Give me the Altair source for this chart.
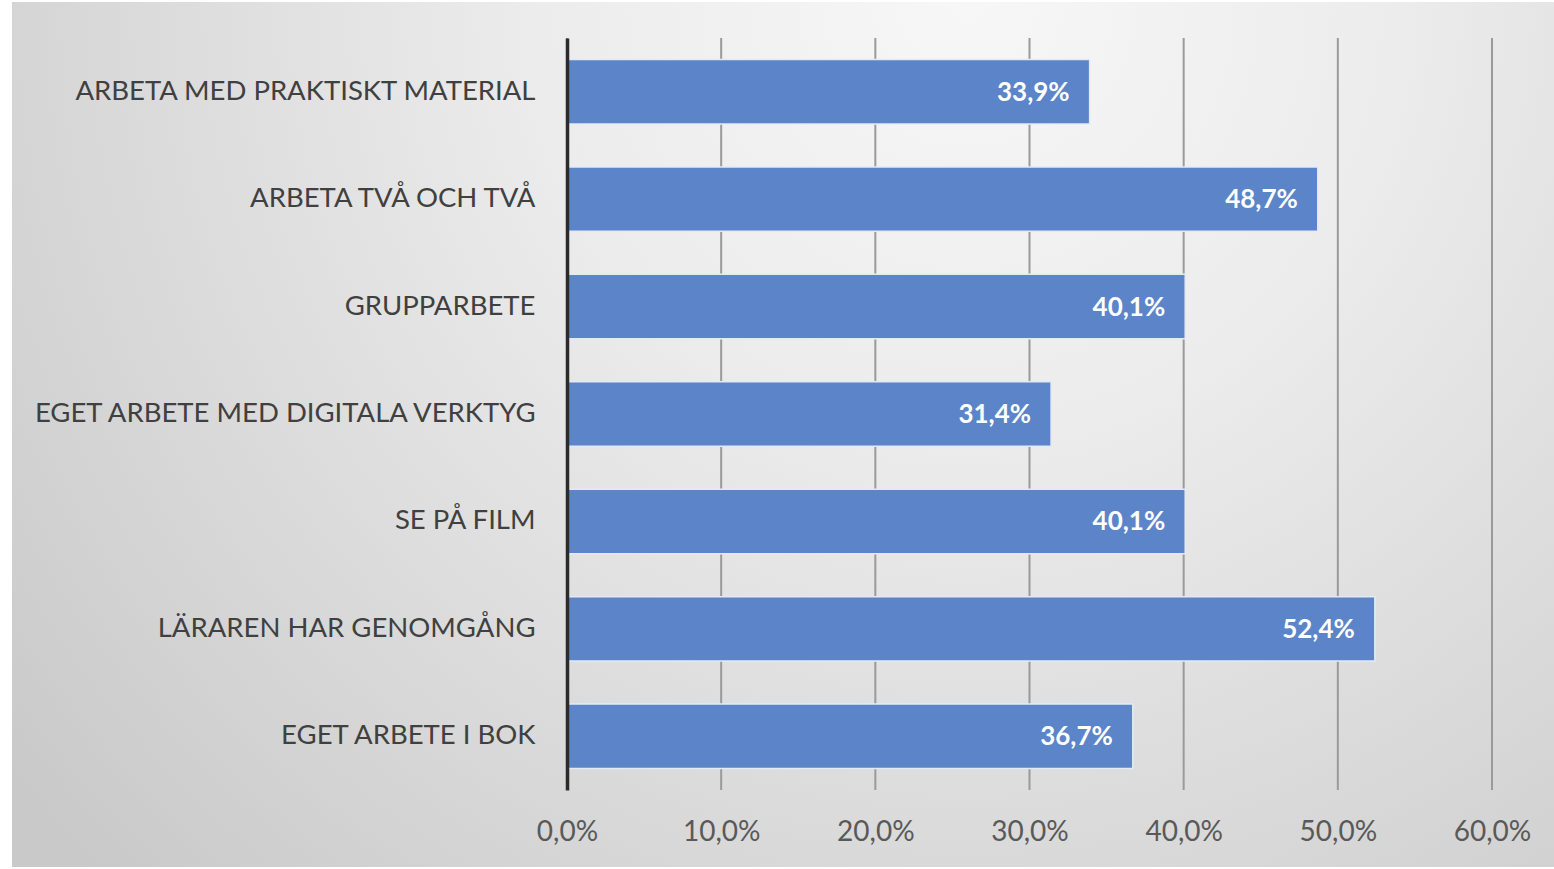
import altair as alt
import pandas as pd

categories = [
    "ARBETA MED PRAKTISKT MATERIAL",
    "ARBETA TVÅ OCH TVÅ",
    "GRUPPARBETE",
    "EGET ARBETE MED DIGITALA VERKTYG",
    "SE PÅ FILM",
    "LÄRAREN HAR GENOMGÅNG",
    "EGET ARBETE I BOK",
]
values = [33.9, 48.7, 40.1, 31.4, 40.1, 52.4, 36.7]
ticks = [0, 10, 20, 30, 40, 50, 60]

W, H = 925, 752
FONT = "Lato"

df = pd.DataFrame({"cat": categories, "val": values})
df_ticks = pd.DataFrame({"t": ticks})

xscale = alt.Scale(domain=[0, 60], nice=False, zero=True)
yscale = alt.Scale(paddingInner=0.4, paddingOuter=0.2)

bg = alt.Chart(pd.DataFrame({"a": [0]})).mark_rect(
    clip=False,
    color=alt.Gradient(
        gradient="radial",
        stops=[alt.GradientStop(color="#f7f7f7", offset=0),
               alt.GradientStop(color="#ececec", offset=0.35),
               alt.GradientStop(color="#c9c9c9", offset=1)],
        x1=0.62, y1=0.22, r1=0, x2=0.62, y2=0.22, r2=0.8,
    ),
).encode(
    x=alt.value(-555), x2=alt.value(987),
    y=alt.value(-36), y2=alt.value(829),
)

grid = alt.Chart(df_ticks).mark_rule(color="#9a9a9a", strokeWidth=2).encode(
    x=alt.X("t:Q", scale=xscale),
    y=alt.value(0), y2=alt.value(H),
)

base = alt.Chart(df).encode(
    y=alt.Y("cat:N", sort=categories, scale=yscale,
            axis=alt.Axis(title=None, ticks=False, domain=True,
                          domainColor="#2b2b2b", domainWidth=3.5,
                          labelFont=FONT, labelFontSize=27.5, labelColor="#404040",
                          labelPadding=32, labelLimit=700, zindex=1)),
)

bars = base.mark_bar(color="#5b84c9", stroke="#e3eaf6", strokeWidth=1.5).encode(
    x=alt.X("val:Q", scale=xscale,
            axis=alt.Axis(title=None, ticks=False, domain=False, grid=False,
                          values=ticks, labelFlush=False,
                          labelExpr="replace(format(datum.value, '.1f'), '.', ',') + '%'",
                          labelFont=FONT, labelFontSize=28, labelColor="#595959",
                          labelPadding=28, zindex=1)),
)

labels = base.transform_calculate(
    lab="replace(format(datum.val, '.1f'), '.', ',') + '%'"
).mark_text(
    align="right", baseline="middle", dx=-20, dy=1,
    font=FONT, fontSize=26, fontWeight="bold", color="white",
).encode(
    x=alt.X("val:Q", scale=xscale),
    text="lab:N",
)

chart = alt.layer(bg, grid, bars, labels).properties(
    width=W, height=H,
    background="white",
    padding={"left": 12, "top": 2, "right": 0, "bottom": 2},
).configure_view(stroke=None)

chart.save("out.html", embed_options={"renderer": "svg", "actions": False})
